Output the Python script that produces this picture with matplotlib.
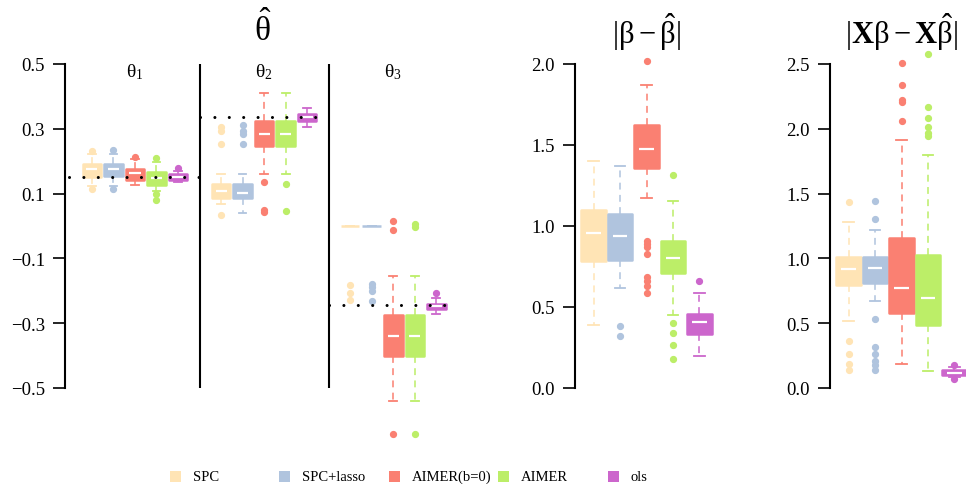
import matplotlib
matplotlib.use("Agg")
import matplotlib.pyplot as plt
from matplotlib.patches import Rectangle
import numpy as np

plt.rcParams['font.family'] = ['Liberation Serif', 'DejaVu Serif']
plt.rcParams['mathtext.fontset'] = 'custom'
plt.rcParams['mathtext.rm'] = 'Liberation Serif'
plt.rcParams['mathtext.it'] = 'Liberation Serif:italic'
plt.rcParams['mathtext.bf'] = 'Liberation Serif:bold'

methods = ["SPC", "SPC+lasso", "AIMER(b=0)", "AIMER", "ols"]
colors = ["#FFE4B5", "#B0C4DE", "#FA8072", "#BCEE68", "#CC66CC"]

# theta-hat panel: true values and box stats for each component
theta_names = [r"$\mathrm{\theta}_1$", r"$\mathrm{\theta}_2$", r"$\mathrm{\theta}_3$"]
theta_true = [0.15, 0.335, -0.245]

theta1_med = [0.175, 0.177, 0.163, 0.149, 0.151]
theta1_q1 = [0.152, 0.154, 0.142, 0.126, 0.142]
theta1_q3 = [0.190, 0.190, 0.177, 0.168, 0.162]
theta1_lo = [0.123, 0.123, 0.125, 0.108, 0.136]
theta1_hi = [0.221, 0.221, 0.206, 0.196, 0.170]
theta1_out = [[0.232, 0.113], [0.235, 0.115], [0.214], [0.211, 0.098, 0.080], [0.180]]

theta2_med = [0.108, 0.103, 0.285, 0.285, 0.335]
theta2_q1 = [0.087, 0.085, 0.247, 0.247, 0.325]
theta2_q3 = [0.131, 0.131, 0.323, 0.323, 0.345]
theta2_lo = [0.067, 0.041, 0.159, 0.159, 0.306]
theta2_hi = [0.162, 0.162, 0.412, 0.412, 0.364]
theta2_out = [[0.306, 0.294, 0.252, 0.033], [0.312, 0.294, 0.283, 0.254],
              [0.137, 0.048, 0.043], [0.131, 0.046], []]

theta3_med = [0.0, 0.0, -0.341, -0.341, -0.248]
theta3_q1 = [0.0, 0.0, -0.401, -0.401, -0.256]
theta3_q3 = [0.0, 0.0, -0.274, -0.274, -0.240]
theta3_lo = [0.0, 0.0, -0.539, -0.539, -0.271]
theta3_hi = [0.0, 0.0, -0.153, -0.153, -0.222]
theta3_out = [[-0.181, -0.207, -0.228], [-0.178, -0.188, -0.202, -0.230],
              [0.015, -0.013, -0.643], [0.005, -0.003, -0.643], [-0.207]]

# |beta - beta_hat|
beta_med = [0.954, 0.937, 1.477, 0.802, 0.406]
beta_q1 = [0.782, 0.792, 1.358, 0.710, 0.334]
beta_q3 = [1.099, 1.073, 1.625, 0.909, 0.457]
beta_lo = [0.390, 0.619, 1.173, 0.451, 0.195]
beta_hi = [1.401, 1.370, 1.871, 1.153, 0.585]
beta_out = [[], [0.385, 0.320],
            [2.020, 0.909, 0.888, 0.868, 0.829, 0.687, 0.662, 0.632, 0.585],
            [1.317, 0.400, 0.338, 0.268, 0.180], [0.662]]

# |X beta - X beta_hat|
xb_med = [0.918, 0.923, 0.774, 0.692, 0.118]
xb_q1 = [0.797, 0.808, 0.577, 0.489, 0.100]
xb_q3 = [1.012, 1.012, 1.156, 1.028, 0.138]
xb_lo = [0.520, 0.669, 0.187, 0.128, 0.082]
xb_hi = [1.284, 1.220, 1.913, 1.797, 0.160]
xb_out = [[1.436, 0.366, 0.264, 0.187, 0.136],
          [1.443, 1.302, 0.533, 0.315, 0.264, 0.212, 0.174, 0.136],
          [2.508, 2.341, 2.220, 2.205, 2.058],
          [2.577, 2.166, 2.082, 2.015, 1.969, 1.943], [0.175, 0.072]]

ticks1 = [-0.5, -0.3, -0.1, 0.1, 0.3, 0.5]
ticks2 = [0.0, 0.5, 1.0, 1.5, 2.0]
ticks3 = [0.0, 0.5, 1.0, 1.5, 2.0, 2.5]

W, H = 966, 485
fig = plt.figure(figsize=(W / 100, H / 100), dpi=100)


def px_axes(left, right, top, bottom):
    return fig.add_axes([left / W, 1 - bottom / H, (right - left) / W, (bottom - top) / H])


def draw_boxes(ax, positions, med, q1, q3, lo, hi, out, width):
    stats = []
    for i in range(len(med)):
        stats.append(dict(med=med[i], q1=q1[i], q3=q3[i], whislo=lo[i],
                          whishi=hi[i], fliers=np.array(out[i])))
    res = ax.bxp(stats, positions=positions, widths=width, patch_artist=True,
                 showfliers=True, manage_ticks=False,
                 medianprops=dict(linewidth=0),
                 capwidths=width * 0.42)
    for i, c in enumerate(colors):
        b = res['boxes'][i]
        b.set_facecolor(c)
        b.set_edgecolor(c)
        b.set_linewidth(1.8)
        b.set_joinstyle('round')
        for w in res['whiskers'][2 * i:2 * i + 2]:
            w.set_color(c)
            w.set_linestyle((0, (4.5, 3.5)))
            w.set_linewidth(1.1)
        for cp in res['caps'][2 * i:2 * i + 2]:
            cp.set_color(c)
            cp.set_linewidth(1.3)
        f = res['fliers'][i]
        f.set_marker('o')
        f.set_markerfacecolor(c)
        f.set_markeredgecolor(c)
        f.set_markersize(4.2)
        if q3[i] > q1[i]:
            ax.hlines(med[i], positions[i] - 0.3 * width, positions[i] + 0.3 * width,
                      colors='white', linewidth=1.6, zorder=5)


def style_axis(ax, ticks, labels):
    for s in ['top', 'right', 'bottom']:
        ax.spines[s].set_visible(False)
    ax.spines['left'].set_bounds(ticks[0], ticks[-1])
    ax.spines['left'].set_linewidth(1.5)
    ax.set_yticks(ticks)
    ax.set_yticklabels(labels)
    ax.set_xticks([])
    ax.tick_params(axis='y', direction='out', length=8.5, width=1.2, labelsize=13.5, pad=6)
    ax.patch.set_alpha(0)


# ---------- panel 1: theta hat ----------
ax1 = px_axes(65, 460, 40, 445)
ax1.set_xlim(-0.25, 18.1)
ax1.set_ylim(0.5 - 380 / 324, 0.5 + 25 / 324)
groups = [
    (theta1_med, theta1_q1, theta1_q3, theta1_lo, theta1_hi, theta1_out),
    (theta2_med, theta2_q1, theta2_q3, theta2_lo, theta2_hi, theta2_out),
    (theta3_med, theta3_q1, theta3_q3, theta3_lo, theta3_hi, theta3_out),
]
for g, st in enumerate(groups):
    pos = [6 * g + 1 + k for k in range(5)]
    draw_boxes(ax1, pos, *st, width=0.86)
    x0 = 6 * g if g > 0 else -0.06
    ax1.hlines(theta_true[g], x0, 6 * g + 6, colors='black', linewidth=2.2,
               linestyles=(0, (0.01, 4.7)), capstyle='round', zorder=6)
    ax1.text(6 * g + 3, (445 - 72) / 405, theta_names[g], transform=ax1.get_xaxis_transform(),
             ha='center', va='center', fontsize=14)
for xd in [6, 12]:
    ax1.vlines(xd, -0.5, 0.5, colors='black', linewidth=1.5, zorder=7)
style_axis(ax1, ticks1, ["\u22120.5", "\u22120.3", "\u22120.1", "0.1", "0.3", "0.5"])
ax1.text(0.5, 1.025, r"$\hat{\mathrm{\theta}}$", transform=ax1.transAxes, ha='center',
         va='center', fontsize=24)

# ---------- panel 2: |beta - beta_hat| ----------
ax2 = px_axes(575, 718, 40, 445)
ax2.set_xlim(0.3, 5.7)
ax2.set_ylim(-56 / 162, 2 + 25 / 162)
draw_boxes(ax2, [1, 2, 3, 4, 5], beta_med, beta_q1, beta_q3, beta_lo, beta_hi, beta_out,
           width=0.92)
style_axis(ax2, ticks2, ["%.1f" % t for t in ticks2])
ax2.text(0.5, 1.02, r"$|\mathrm{\beta} - \hat{\mathrm{\beta}}|$", transform=ax2.transAxes,
         ha='center', va='center', fontsize=22)

# ---------- panel 3: |X beta - X beta_hat| ----------
ax3 = px_axes(830, 973, 40, 445)
ax3.set_xlim(0.3, 5.7)
ax3.set_ylim(-56 / 129.6, 2.5 + 25 / 129.6)
draw_boxes(ax3, [1, 2, 3, 4, 5], xb_med, xb_q1, xb_q3, xb_lo, xb_hi, xb_out, width=0.92)
style_axis(ax3, ticks3, ["%.1f" % t for t in ticks3])
ax3.text(0.5, 1.02, r"$|\mathbf{X}\mathrm{\beta} - \mathbf{X}\hat{\mathrm{\beta}}|$",
         transform=ax3.transAxes, ha='center', va='center', fontsize=22)

# ---------- legend ----------
for i, (m, c) in enumerate(zip(methods, colors)):
    cx = 175.5 + i * 109.4
    cy = 477.5
    fig.add_artist(Rectangle(((cx - 5.5) / W, 1 - (cy + 5.5) / H), 11 / W, 11 / H,
                             transform=fig.transFigure, facecolor=c, edgecolor='none'))
    fig.text((cx + 17.5) / W, 1 - cy / H, m, ha='left', va='center', fontsize=10.5)

fig.savefig("out.png", dpi=100)
